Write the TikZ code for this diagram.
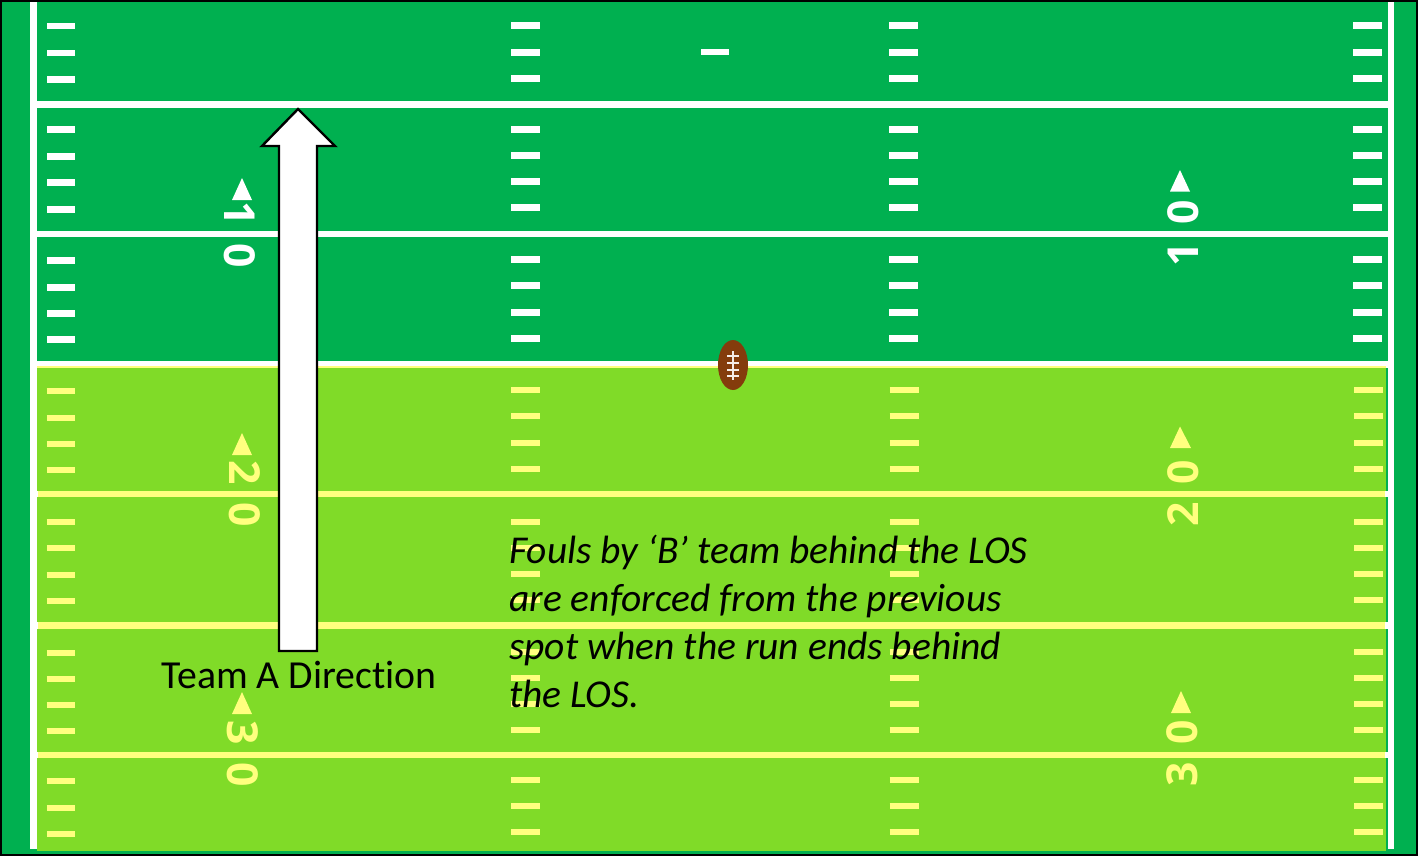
\documentclass[tikz,border=0pt]{standalone}
\usepackage{fontspec}
\setmainfont[Ligatures=NoCommon]{Carlito}
\newfontfamily\numfont{Open Sans}
\definecolor{darkturf}{HTML}{00B050}
\definecolor{lightturf}{HTML}{80DB28}
\definecolor{paint}{HTML}{FFFF7F}
\definecolor{ballbrown}{HTML}{843C0C}
\tikzset{
  px/.style={x=0.75pt,y=-0.75pt},
  hash/.style={line width=4.9pt,line cap=butt},
  yardline/.style={line width=4.9pt,line cap=butt},
  yardnum/.style={inner sep=0pt,font=\numfont\bfseries\fontsize{32}{32}\selectfont},
  lace/.style={draw=white!90!ballbrown,line width=1.2pt}
}
\newcommand{\yardpair}[5]{% x, y, rot, colour, text
  \node[yardnum,text=#4,rotate=#3] at (#1,#2) {#5};}
\begin{document}
\begin{tikzpicture}[px]
\useasboundingbox (0,0) rectangle (1418,856);
\fill[darkturf] (0,0) rectangle (1418,856);
\fill[lightturf] (37,366) rectangle (1386,851);
% sidelines
\fill[white] (30,0) rectangle (36.5,849);
\fill[white] (1387.5,0) rectangle (1394,849);
% white yard lines
\foreach \y in {104.5,234} \draw[yardline,white] (36,\y) -- (1388,\y);
\draw[yardline,white] (36,364.5) -- (1388,364.5);
\draw[line width=1.2pt,paint] (37,367) -- (1386,367);
% yellow yard lines
\foreach \y in {494,625.5,755} {
  \draw[yardline,white] (36,\y) -- (1388,\y);
  \draw[yardline,paint] (38,\y) -- (1385,\y);
}
% hash marks: white
\foreach \y in {26,53,79.5,129.5,156.5,182.5,209.5,260.5,287.5,313.5,339.5}
  \draw[hash,white] (47,\y) -- (75,\y);
\foreach \x/\xx in {511/540,889/918,1353/1382}
  \foreach \y in {25.5,52.5,78.5,129.5,155.5,181.5,207.5,259.5,285.5,312.5,338.5}
    \draw[hash,white] (\x,\y) -- (\xx,\y);
\draw[hash,white] (701,52) -- (729,52);
% hash marks: yellow
\foreach \y in {391,418,444,470,522,548,575,601,653,679,705,731,781,808,834}
  \draw[hash,paint] (46.5,\y) -- (75,\y);
\foreach \x/\xx in {511/540,889.5/918.5,1354/1383}
  \foreach \y in {390,416,443,469,522,548,574,600,652,678,704,730,780,806,832}
    \draw[hash,paint] (\x,\y) -- (\xx,\y);
% direction triangles
\fill[white] (242,178) -- (232,200) -- (252,200) -- cycle;
\fill[white] (1180,170) -- (1170,191.5) -- (1190,191.5) -- cycle;
\fill[paint] (242,433) -- (232,455) -- (252,455) -- cycle;
\fill[paint] (1180,426.5) -- (1170,448) -- (1191,448) -- cycle;
\fill[paint] (242,692) -- (232,714) -- (252,714) -- cycle;
\fill[paint] (1181,691) -- (1171,713) -- (1191,713) -- cycle;
% yard numbers
\yardpair{240}{235}{-90}{white}{1\hspace{13pt}0}
\yardpair{1183}{233}{90}{white}{1\hspace{13pt}0}
\yardpair{244.5}{494}{-90}{paint}{2\hspace{13pt}0}
\yardpair{1183}{493}{90}{paint}{2\hspace{13pt}0}
\yardpair{242.5}{754}{-90}{paint}{3\hspace{13pt}0}
\yardpair{1182.5}{753.5}{90}{paint}{3\hspace{13pt}0}
% arrow
\draw[black,fill=white,line width=1.8pt,miter limit=4]
  (298,109) -- (335,146) -- (317,146) -- (317,651) -- (279,651) -- (279,146) -- (262,146) -- cycle;
% football
\fill[ballbrown] (733,365) ellipse [x radius=15,y radius=25];
\draw[lace] (733,351) -- (733,380);
\foreach \y in {356,363,370,376} \draw[lace] (727,\y) -- (739,\y);
% labels
\node[inner sep=0pt,font=\fontsize{29.8}{32}\selectfont] (dir) at (299,675) {Team A Direction};
\node[anchor=north west,inner sep=0pt,align=left,font=\itshape\fontsize{29.6}{36}\selectfont] (note) at (509,535)
  {Fouls by ‘B’ team behind the LOS\\are enforced from the previous\\spot when the run ends behind\\the LOS.};
% frame
\draw[black,line width=1.5pt] (1,1) rectangle (1417,855);
\end{tikzpicture}
\end{document}
